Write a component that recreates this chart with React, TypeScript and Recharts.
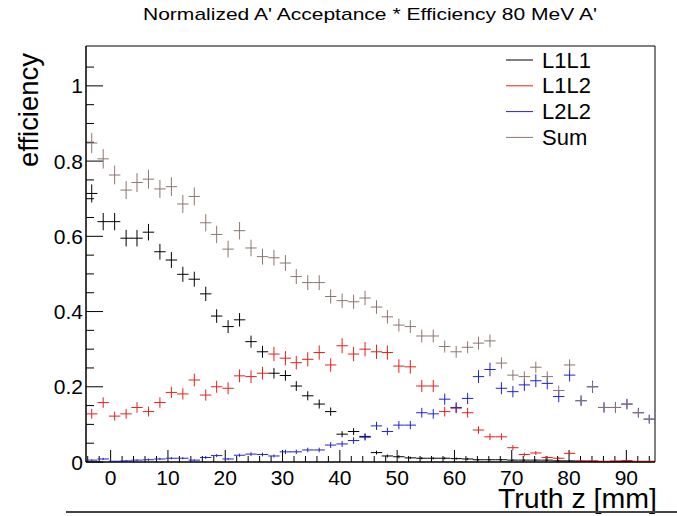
import { ComposedChart, Scatter, XAxis, YAxis, ErrorBar, ReferenceArea, Customized } from "recharts";

// bin centres of the 50 bins (range -4.3 .. 95 mm)
const binCenters = [
  -3.3, -1.3, 0.7, 2.7, 4.6, 6.6, 8.6, 10.6, 12.6, 14.6,
  16.6, 18.5, 20.5, 22.5, 24.5, 26.5, 28.5, 30.5, 32.4, 34.4,
  36.4, 38.4, 40.4, 42.4, 44.4, 46.4, 48.3, 50.3, 52.3, 54.3,
  56.3, 58.3, 60.3, 62.3, 64.2, 66.2, 68.2, 70.2, 72.2, 74.2,
  76.2, 78.2, 80.1, 82.1, 84.1, 86.1, 88.1, 90.1, 92.1, 94.0,
];
const BIN_HALF = 0.993;

const l1l1 = [
  0.714, 0.639, 0.639, 0.595, 0.595, 0.611, 0.559, 0.537, 0.499, 0.486,
  0.447, 0.388, 0.36, 0.378, 0.32, 0.293, 0.236, 0.23, 0.202, 0.176,
  0.154, 0.134, 0.074, 0.081, 0.068, 0.025, 0.016, 0.014, 0.011, 0.01,
  0.01, 0.01, 0.009, 0.008, 0.006, 0.006, 0.006, 0.005, 0.005, 0.005,
  0.005, 0.003, 0.003, 0.002, 0.002, 0.001, 0.001, 0.001, 0.001, 0.001,
];
const l1l1Err = [
  0.024, 0.023, 0.023, 0.022, 0.022, 0.022, 0.021, 0.021, 0.02, 0.02,
  0.019, 0.018, 0.017, 0.018, 0.016, 0.016, 0.014, 0.014, 0.013, 0.012,
  0.012, 0.011, 0.008, 0.009, 0.008, 0.005, 0.004, 0.004, 0.003, 0.003,
  0.003, 0.003, 0.003, 0.003, 0.002, 0.002, 0.002, 0.002, 0.002, 0.002,
  0.002, 0.002, 0.002, 0.001, 0.001, 0.001, 0.001, 0.001, 0.001, 0.001,
];

const l1l2 = [
  0.128, 0.158, 0.122, 0.128, 0.145, 0.134, 0.158, 0.185, 0.181, 0.218,
  0.178, 0.2, 0.196, 0.229, 0.227, 0.236, 0.287, 0.276, 0.264, 0.273,
  0.291, 0.258, 0.309, 0.287, 0.3, 0.293, 0.291, 0.255, 0.253, 0.202,
  0.202, 0.134, 0.143, 0.131, 0.085, 0.067, 0.067, 0.038, 0.02, 0.024,
  0.012, 0.01, 0.023, 0.003, 0.003, 0.002, 0.003, 0.004, 0.002, 0.002,
];
const l1l2Err = [
  0.013, 0.014, 0.012, 0.013, 0.014, 0.013, 0.014, 0.015, 0.015, 0.017,
  0.015, 0.016, 0.016, 0.017, 0.017, 0.017, 0.019, 0.019, 0.018, 0.019,
  0.019, 0.018, 0.02, 0.019, 0.019, 0.019, 0.019, 0.018, 0.018, 0.016,
  0.016, 0.013, 0.013, 0.013, 0.01, 0.009, 0.009, 0.007, 0.005, 0.005,
  0.004, 0.003, 0.005, 0.002, 0.002, 0.001, 0.002, 0.002, 0.001, 0.001,
];

const l2l2 = [
  0.005, 0.008, 0.002, 0.003, 0.005, 0.006, 0.008, 0.01, 0.01, 0.005,
  0.012, 0.017, 0.008, 0.018, 0.021, 0.02, 0.016, 0.027, 0.027, 0.032,
  0.032, 0.045, 0.048, 0.057, 0.066, 0.096, 0.081, 0.098, 0.098, 0.131,
  0.128, 0.167, 0.145, 0.169, 0.227, 0.246, 0.196, 0.187, 0.205, 0.216,
  0.209, 0.174, 0.231, 0.163, 0.2, 0.145, 0.145, 0.154, 0.131, 0.114,
];
const l2l2Err = [
  0.002, 0.003, 0.001, 0.002, 0.002, 0.003, 0.003, 0.003, 0.003, 0.002,
  0.004, 0.004, 0.003, 0.004, 0.005, 0.005, 0.004, 0.006, 0.006, 0.006,
  0.006, 0.008, 0.008, 0.009, 0.009, 0.011, 0.01, 0.011, 0.011, 0.013,
  0.013, 0.015, 0.014, 0.015, 0.017, 0.018, 0.016, 0.015, 0.016, 0.017,
  0.016, 0.015, 0.017, 0.014, 0.016, 0.014, 0.014, 0.014, 0.013, 0.012,
];

const sumEff = [
  0.848, 0.806, 0.763, 0.723, 0.743, 0.752, 0.726, 0.732, 0.686, 0.706,
  0.636, 0.605, 0.566, 0.615, 0.569, 0.546, 0.543, 0.529, 0.493, 0.477,
  0.477, 0.44, 0.429, 0.426, 0.436, 0.412, 0.386, 0.364, 0.36, 0.335,
  0.335, 0.307, 0.293, 0.305, 0.316, 0.322, 0.263, 0.231, 0.227, 0.252,
  0.227, 0.19, 0.258, 0.163, 0.2, 0.145, 0.145, 0.154, 0.131, 0.114,
];
const sumErr = [
  0.027, 0.026, 0.025, 0.024, 0.025, 0.025, 0.024, 0.025, 0.024, 0.024,
  0.023, 0.023, 0.022, 0.023, 0.022, 0.021, 0.021, 0.021, 0.02, 0.02,
  0.02, 0.019, 0.019, 0.019, 0.019, 0.018, 0.018, 0.017, 0.017, 0.017,
  0.017, 0.016, 0.016, 0.016, 0.017, 0.017, 0.015, 0.014, 0.014, 0.015,
  0.014, 0.013, 0.015, 0.012, 0.013, 0.012, 0.012, 0.012, 0.011, 0.01,
];

// every 0.05 on y, every 2 mm on x; labelled ones are the majors
const yTicks = [0, 0.05, 0.1, 0.15, 0.2, 0.25, 0.3, 0.35, 0.4, 0.45, 0.5, 0.55, 0.6, 0.65, 0.7, 0.75, 0.8, 0.85, 0.9, 0.95, 1, 1.05];
const xTicks = [-4, -2, 0, 2, 4, 6, 8, 10, 12, 14, 16, 18, 20, 22, 24, 26, 28, 30, 32, 34, 36, 38, 40, 42, 44, 46, 48, 50, 52, 54, 56, 58, 60, 62, 64, 66, 68, 70, 72, 74, 76, 78, 80, 82, 84, 86, 88, 90, 92, 94];

const X_DOMAIN = [-4.3, 95];
const Y_DOMAIN = [0, 1.106];
const MARGIN = { top: 46, right: 22, left: 26, bottom: 24 };
const Y_AXIS_W = 60;
const X_AXIS_H = 30;
const CHART_W = 677;
const CHART_H = 516;
const PLOT_LEFT = MARGIN.left + Y_AXIS_W;
const PLOT_TOP = MARGIN.top;
const PLOT_W = CHART_W - PLOT_LEFT - MARGIN.right;
const PLOT_H = CHART_H - PLOT_TOP - MARGIN.bottom - X_AXIS_H;
const FONT = "'Liberation Sans', Arial, Helvetica, sans-serif";

const isYMajor = (v: number) => Math.abs(v * 5 - Math.round(v * 5)) < 1e-6;
const isXMajor = (v: number) => v % 10 === 0;
// axis value -> pixel, for the inward tick marks only
const tickX = (v: number) => PLOT_LEFT + ((v - X_DOMAIN[0]) / (X_DOMAIN[1] - X_DOMAIN[0])) * PLOT_W;
const tickY = (v: number) => PLOT_TOP + PLOT_H - ((v - Y_DOMAIN[0]) / (Y_DOMAIN[1] - Y_DOMAIN[0])) * PLOT_H;

const rows = (vals: number[], errs: number[]) =>
  binCenters.map((z, i) => ({ z, v: vals[i], e: errs[i], xe: BIN_HALF }));

const series = [
  { name: "L1L1", color: "#000000", data: rows(l1l1, l1l1Err) },
  { name: "L1L2", color: "#e3211c", data: rows(l1l2, l1l2Err) },
  { name: "L2L2", color: "#2222d6", data: rows(l2l2, l2l2Err) },
  { name: "Sum", color: "#8c7670", data: rows(sumEff, sumErr) },
];

const noShape = () => <g />;

function YLabel(props: any) {
  const { x, y, payload } = props;
  const v = payload.value as number;
  if (!isYMajor(v)) return <g />;
  return (
    <text x={x + 3} y={y} dy={7.5} textAnchor="end" fontSize={21} fontFamily={FONT} fill="#000">
      {Number(v.toFixed(2)).toString()}
    </text>
  );
}

function XLabel(props: any) {
  const { x, y, payload } = props;
  const v = payload.value as number;
  if (!isXMajor(v)) return <g />;
  return (
    <text x={x} y={y + 17} textAnchor="middle" fontSize={21} fontFamily={FONT} fill="#000">
      {v}
    </text>
  );
}

function Overlay() {
  const axisBottom = PLOT_TOP + PLOT_H;
  return (
    <g fontFamily={FONT} fill="#000">
      {yTicks.map((t) => (
        <line key={"y" + t} x1={PLOT_LEFT} x2={PLOT_LEFT + (isYMajor(t) ? 17 : 8)} y1={tickY(t)} y2={tickY(t)} stroke="#000" />
      ))}
      {xTicks.map((t) => (
        <line key={"x" + t} x1={tickX(t)} x2={tickX(t)} y1={axisBottom} y2={axisBottom - (isXMajor(t) ? 12 : 6)} stroke="#000" />
      ))}
      <text x={143} y={20} fontSize={17} textLength={454} lengthAdjust="spacingAndGlyphs">
        Normalized A' Acceptance * Efficiency 80 MeV A'
      </text>
      <text transform="translate(38,53) rotate(-90)" textAnchor="end" fontSize={28} textLength={114} lengthAdjust="spacingAndGlyphs">
        efficiency
      </text>
      <text x={657} y={508} textAnchor="end" fontSize={27} textLength={159} lengthAdjust="spacingAndGlyphs">
        Truth z [mm]
      </text>
      {series.map((s, i) => (
        <g key={s.name}>
          <line x1={506} x2={533} y1={60 + i * 25.8} y2={60 + i * 25.8} stroke={s.color} />
          <text x={542} y={67.5 + i * 25.8} fontSize={22}>
            {s.name}
          </text>
        </g>
      ))}
      <line x1={66} x2={677} y1={512} y2={512} stroke="#444" strokeWidth={2} />
    </g>
  );
}

export default function App() {
  return (
    <div style={{ position: "absolute", left: 0, top: 0, background: "#fff" }}>
      <ComposedChart width={CHART_W} height={CHART_H} margin={MARGIN}>
        <XAxis
          dataKey="z"
          type="number"
          domain={X_DOMAIN}
          ticks={xTicks}
          interval={0}
          tickSize={0}
          tickMargin={6}
          tick={XLabel}
          tickLine={false}
          axisLine={{ stroke: "#000" }}
          height={X_AXIS_H}
        />
        <YAxis
          dataKey="v"
          type="number"
          domain={Y_DOMAIN}
          ticks={yTicks}
          interval={0}
          tickSize={0}
          tickMargin={6}
          tick={YLabel}
          tickLine={false}
          axisLine={{ stroke: "#000" }}
          width={Y_AXIS_W}
        />
        <ReferenceArea x1={X_DOMAIN[0]} x2={X_DOMAIN[1]} y1={Y_DOMAIN[0]} y2={Y_DOMAIN[1]} fill="none" stroke="#000" strokeWidth={1} />
        {series.map((s) => (
          <Scatter key={s.name} name={s.name} data={s.data} dataKey="v" shape={noShape} isAnimationActive={false}>
            <ErrorBar dataKey="e" direction="y" width={0} stroke={s.color} strokeWidth={1} />
            <ErrorBar dataKey="xe" direction="x" width={0} stroke={s.color} strokeWidth={1} />
          </Scatter>
        ))}
        <Customized component={Overlay} />
      </ComposedChart>
    </div>
  );
}
